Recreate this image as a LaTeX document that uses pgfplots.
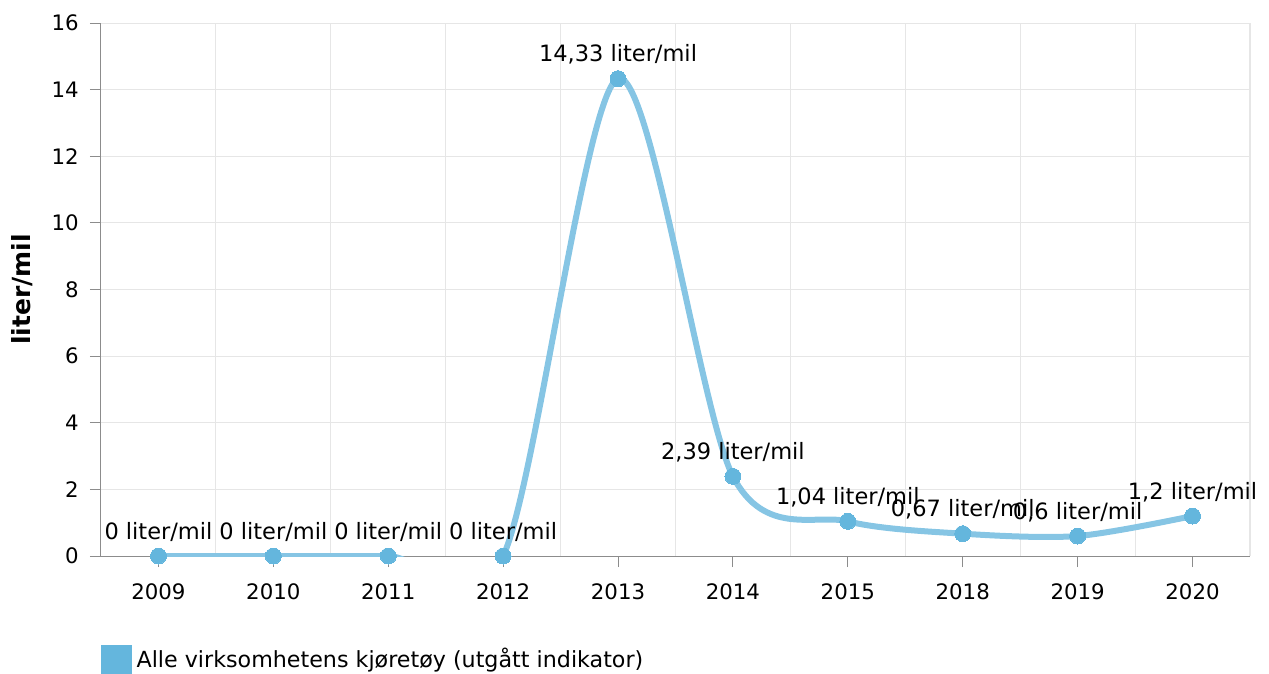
\documentclass[border=0pt]{standalone}
\usepackage{pgfplots}
\pgfplotsset{compat=1.18}
\usepackage{fontspec}
\setmainfont{DejaVu Sans}
\definecolor{linec}{HTML}{86C5E4}
\definecolor{markc}{HTML}{64B6DD}
\definecolor{gridc}{HTML}{E6E6E6}
\definecolor{axisc}{HTML}{8C8C8C}
\begin{document}
\fontsize{21}{25}\selectfont
\begin{tikzpicture}
\begin{axis}[
 scale only axis, width=1149pt, height=533pt,
 xmin=-0.5, xmax=9.5, ymin=0, ymax=16,
 ytick={0,2,...,16},
 xtick={0,...,9},
 xticklabels={2009,2010,2011,2012,2013,2014,2015,2018,2019,2020},
 minor xtick={-0.5,0.5,...,9.5},
 xminorgrids=true, ymajorgrids=true, xmajorgrids=false,
 grid style={gridc, line width=1pt},
 minor grid style={gridc, line width=1pt},
 axis x line*=bottom, axis y line*=left,
 axis line style={axisc, line width=1pt, -},
 tick align=outside,
 major tick length=11pt, minor tick length=0pt,
 tick style={axisc, line width=1pt},
 /pgf/number format/assume math mode=true,
 tick label style={font=\fontsize{21.3}{25}\selectfont, black},
 xticklabel style={yshift=-9pt},
 yticklabel style={xshift=-4pt},
 ylabel={\textbf{liter/mil}},
 ylabel style={at={(axis description cs:-0.0687,0.5)}, anchor=center, font=\fontsize{25}{29}\selectfont},
 legend style={at={(axis description cs:0,-0.193)}, anchor=west, draw=none, fill=none, inner sep=0pt, column sep=3pt, nodes={inner sep=2pt}, font=\fontsize{22.2}{26}\selectfont},
 legend cell align=left,
]
\coordinate (O) at (axis cs:-0.5,0);
\addplot[smooth, linec, line width=6pt, mark=*, mark size=8pt,
  mark options={fill=markc, draw=markc, line width=0pt},
  point meta=explicit symbolic,
  nodes near coords,
  nodes near coords style={anchor=base, yshift=17pt, inner sep=0pt, text=black, font=\fontsize{22.5}{26}\selectfont},
  forget plot]
coordinates {
 (0,0) [0 liter/mil]
 (1,0) [0 liter/mil]
 (2,0) [0 liter/mil]
 (3,0) [0 liter/mil]
 (4,14.33) [14,33 liter/mil]
 (5,2.39) [2,39 liter/mil]
 (6,1.04) [1,04 liter/mil]
 (7,0.67) [0,67 liter/mil]
 (8,0.6) [0,6 liter/mil]
 (9,1.2) [1,2 liter/mil]
};
\addlegendimage{legend image code/.code={\fill[markc] (0pt,-14pt) rectangle (30pt,14pt);}}
\addlegendentry{Alle virksomhetens kjøretøy (utgått indikator)}
\end{axis}
\pgfresetboundingbox
\path (O) ++(-101pt,-117pt) rectangle ++(1269pt,673pt);
\end{tikzpicture}
\end{document}
